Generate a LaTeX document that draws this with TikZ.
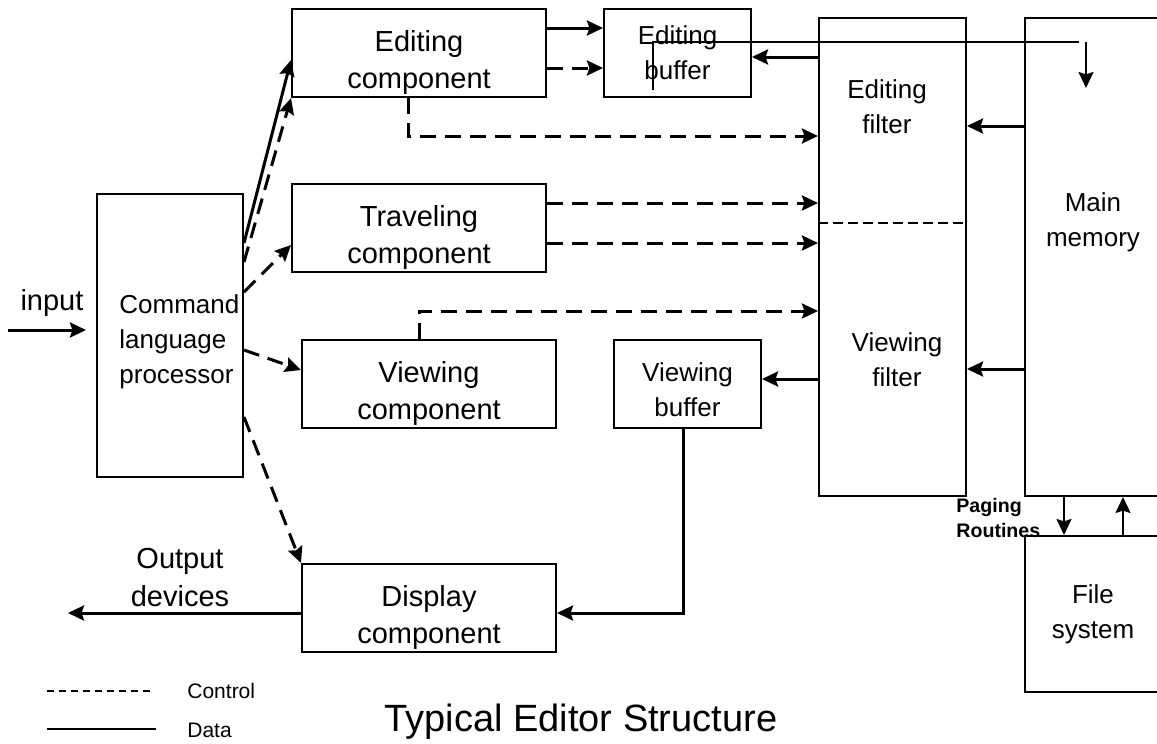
\documentclass[tikz,border=0pt]{standalone}
\usepackage{fontspec}
\setmainfont{Liberation Sans}
\usetikzlibrary{arrows.meta}
\usetikzlibrary{positioning}

\newcommand{\toppad}{\rule{0pt}{20pt}}

\begin{document}
\begin{tikzpicture}[x=0.5pt,y=-0.5pt,>={Stealth[length=8pt,width=7.5pt,inset=1.2pt]},
    box/.style={draw,line width=1pt,inner sep=0pt,align=center},
    comp/.style={box,minimum width=127pt,minimum height=44pt,font=\fontsize{14.5}{18.5}\selectfont},
    buf/.style={box,minimum width=73.5pt,minimum height=44pt,font=\fontsize{13}{17.5}\selectfont},
    lbl/.style={align=center,inner sep=0pt,font=\fontsize{13}{17.5}\selectfont},
    data/.style={->,line width=1.5pt},
    ctrl/.style={->,line width=1.5pt,dash pattern=on 8pt off 4.5pt},
    thinline/.style={line width=1pt}]
  \useasboundingbox (0,0) rectangle (1157,744);
  \clip (0,0) rectangle (1157,744);

  % boxes
  \node[box,minimum width=73pt,minimum height=141.5pt] (clp) at (170,335.5) {};
  \node[comp] (edcomp) at (419,53) {\toppad Editing\\component};
  \node[buf] (edbuf) at (677.5,53) {Editing\\buffer};
  \node[comp] (trav) at (419,228) {\toppad Traveling\\component};
  \node[comp] (viewcomp) at (429,384) {\toppad Viewing\\component};
  \node[buf] (viewbuf) at (687.5,384) {\rule{0pt}{15pt}Viewing\\buffer};
  \node[comp] (display) at (429,608) {\toppad Display\\component};
  \node[box,minimum width=73.5pt,minimum height=239pt] (filter) at (892.5,257) {};
  \node[box,minimum width=68pt,minimum height=239pt] (mainmem) at (1093,257) {};
  \node[box,minimum width=68pt,minimum height=78pt] (filesys) at (1093,614) {};

  \node[lbl,anchor=west,align=left] (clptext) at (119,342) {Command\\language\\processor};
  \node[lbl] (edfilt) at (887,107) {Editing\\filter};
  \node[lbl] (viewfilt) at (897,360) {Viewing\\filter};
  \node[lbl] (memtext) at (1093,222) {Main\\memory};
  \node[lbl] (filetext) at (1093,614) {File\\system};
  \node[anchor=west,align=left,inner sep=0pt,font=\bfseries\fontsize{9.8}{12.5}\selectfont] (paging) at (956,518) {Paging\\Routines};
  \draw[line width=0.8pt,dash pattern=on 5pt off 2.5pt] (filter.west |- 0,223) -- (filter.east |- 0,223);

  % outside labels
  \node[font=\fontsize{14.5}{19}\selectfont] (inlbl) at (52,303) {input};
  \node[align=center,font=\fontsize{14.5}{19}\selectfont] (outlbl) at (180,578) {Output\\devices};
  \coordinate (in) at (8,330);
  \coordinate (out) at (68,613);

  % command processor
  \draw[data,shorten >=5pt] (in) -- (clp.west |- in);
  \draw[data] (clp.east |- 0,243) -- (edcomp.west |- 0,60);
  \draw[ctrl] (clp.east |- 0,262) -- (edcomp.south west);
  \draw[ctrl] (clp.east |- 0,292) -- (trav.west |- 0,245);
  \draw[ctrl] (clp.east |- 0,350) -- (viewcomp.west |- 0,370);
  \draw[ctrl] (clp.east |- 0,417) -- (display.north west);

  % components and buffers
  \draw[data] (edcomp.east |- 0,28) -- (edbuf.west |- 0,28);
  \draw[ctrl] (edcomp.east |- 0,68) -- (edbuf.west |- 0,68);
  \draw[ctrl] (408,0 |- edcomp.south) |- (filter.west |- 0,136);
  \draw[ctrl] (trav.east |- 0,203) -- (filter.west |- 0,203);
  \draw[ctrl] (trav.east |- 0,243) -- (filter.west |- 0,243);
  \draw[ctrl] (419,0 |- viewcomp.north) |- (filter.west |- 0,311);
  \draw[data] (filter.west |- 0,57) -- (edbuf.east |- 0,57);
  \draw[data] (filter.west |- 0,379) -- (viewbuf.east |- 0,379);
  \draw[data] (683,0 |- viewbuf.south) |- (display.east |- 0,613);
  \draw[data] (display.west |- out) -- (out);

  % memory
  \draw[data] (mainmem.west |- 0,126) -- (filter.east |- 0,126);
  \draw[data] (mainmem.west |- 0,369) -- (filter.east |- 0,369);
  \coordinate (oddA) at (653,90);
  \coordinate (oddB) at (1079,42);
  \draw[thinline] (oddA) |- (oddB);
  \coordinate (memin) at (1086,42);
  \coordinate (memtip) at (1086,88);
  \draw[thinline,->] (memin) -- (memtip);
  \draw[thinline,->] (1064,0 |- mainmem.south) -- (1064,0 |- filesys.north);
  \draw[thinline,->] (1123,0 |- filesys.north) -- (1123,0 |- mainmem.south);

  % legend
  \coordinate (ctlA) at (47,691);
  \coordinate (ctlB) at (153,691);
  \coordinate (datA) at (47,729);
  \coordinate (datB) at (156,729);
  \draw[line width=0.8pt,dash pattern=on 3.5pt off 2.5pt] (ctlA) -- (ctlB);
  \draw[line width=0.9pt] (datA) -- (datB);
  \node[anchor=west,inner sep=0pt,font=\fontsize{10.5}{12}\selectfont] (ctltext) at (187,691) {Control};
  \node[anchor=west,inner sep=0pt,font=\fontsize{10.5}{12}\selectfont] (dattext) at (187,730) {Data};
  \node[anchor=west,inner sep=0pt,font=\fontsize{19}{23}\selectfont] (title) at (384,722) {Typical Editor Structure};
\end{tikzpicture}
\end{document}
